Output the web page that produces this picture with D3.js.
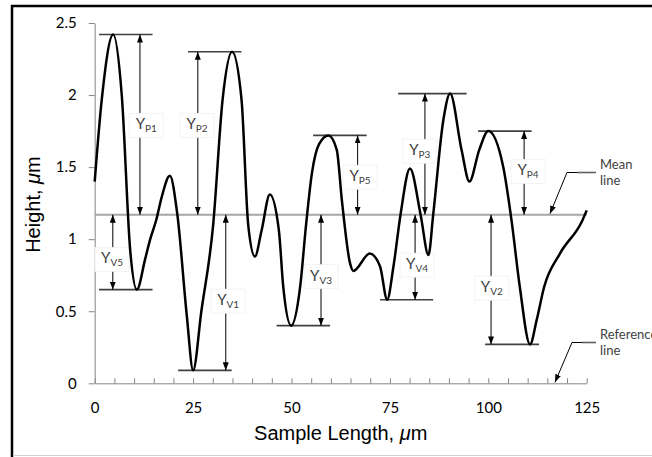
<!DOCTYPE html>
<html>
<head>
<meta charset="utf-8">
<script src="https://cdn.jsdelivr.net/npm/d3@7"></script>
<style>
  body { margin: 0; background: #fff; }
  svg { display: block; }
  text { font-family: Lato, "Open Sans", sans-serif; }
</style>
</head>
<body>
<div id="chart"></div>
<script>
// surface profile, sample length (um) vs height (um)
var profileX = [0, 1.8, 4.7, 6.9, 9.0, 10.7, 12.8, 14.0, 15.7, 17.0, 19.1, 21.0, 23.4, 25.0,
  27.1, 30.1, 32.5, 34.9, 37.3, 39.0, 40.7, 42.4, 44.5, 46.8, 47.9, 49.9, 52.2, 53.7, 55.2, 57.0,
  59.4, 61.5, 62.8, 64.9, 65.7, 69.9, 72.5, 74.3, 75.9, 77.7, 80.1, 82.8, 84.8, 86.0, 88.6,
  90.3, 93.2, 95.2, 97.7, 100, 103.8, 105.9, 108.0, 110.6, 112.3, 114.2, 118.2, 123.9, 125];
var profileY = [1.40, 1.97, 2.42, 1.99, 0.93, 0.65, 0.86, 0.99, 1.14, 1.29, 1.44, 1.17, 0.47, 0.09,
  0.50, 1.10, 1.97, 2.30, 1.97, 1.10, 0.88, 1.06, 1.31, 1.06, 0.67, 0.40, 0.67, 1.10, 1.46, 1.66,
  1.72, 1.62, 1.27, 0.83, 0.78, 0.90, 0.81, 0.58, 0.81, 1.17, 1.49, 1.17, 0.89, 1.17, 1.83,
  2.01, 1.62, 1.40, 1.62, 1.75, 1.50, 1.13, 0.67, 0.27, 0.44, 0.67, 0.90, 1.13, 1.20];
var meanHeight = 1.17;

// peak / valley annotations
var annSub = ["P1", "P2", "P5", "P3", "P4", "V5", "V1", "V3", "V4", "V2"];
var annLevel = [2.42, 2.30, 1.72, 2.01, 1.75, 0.65, 0.09, 0.40, 0.58, 0.27];
var annArrowX = [11.5, 26.2, 66.8, 83.9, 109.1, 4.6, 33.3, 57.5, 81.4, 100.7];
var annLineFrom = [1.1, 23.7, 55.5, 77.1, 97.4, 1.1, 21.2, 46.2, 72.5, 99.2];
var annLineTo = [14.7, 37.3, 69.1, 94.5, 111.0, 14.7, 34.8, 59.8, 86.0, 112.9];
var annLabelX = [13.1, 26.0, 67.4, 82.6, 110.1, 4.4, 33.9, 57.5, 81.9, 100.9];
var annLabelY = [1.79, 1.79, 1.43, 1.61, 1.47, 0.86, 0.57, 0.74, 0.82, 0.66];

var xTicks = [0, 25, 50, 75, 100, 125];
var yTicks = [0, 0.5, 1, 1.5, 2, 2.5];

var width = 652, height = 457;

var svg = d3.select("#chart")
  .append("svg")
    .attr("width", width)
    .attr("height", height);

var x = d3.scaleLinear().domain([0, 125]).range([94.7, 586.7]);
var y = d3.scaleLinear().domain([0, 2.5]).range([383.3, 23]);

// arrow head
var defs = svg.append("defs");
defs.append("marker")
    .attr("id", "head")
    .attr("viewBox", "0 0 8 6")
    .attr("refX", 8)
    .attr("refY", 3)
    .attr("markerWidth", 8)
    .attr("markerHeight", 6)
    .attr("markerUnits", "userSpaceOnUse")
    .attr("orient", "auto-start-reverse")
  .append("path")
    .attr("d", "M0,0L8,3L0,6z")
    .attr("fill", "#000");

// outer frame
svg.append("line").attr("x1", 12).attr("x2", 12).attr("y1", 5).attr("y2", 457)
  .attr("stroke", "#000").attr("stroke-width", 2.5);
svg.append("line").attr("x1", 11).attr("x2", 652).attr("y1", 6).attr("y2", 6)
  .attr("stroke", "#000").attr("stroke-width", 2.5);
svg.append("line").attr("x1", 13).attr("x2", 652).attr("y1", 455.5).attr("y2", 455.5)
  .attr("stroke", "#d0d0d0").attr("stroke-width", 1);

// axes
var yAxis = svg.append("g")
    .attr("transform", "translate(" + x(0) + ",0)")
    .call(d3.axisLeft(y).tickValues(yTicks).tickSizeOuter(0).tickSizeInner(6).tickPadding(12)
      .tickFormat(function(d) { return d; }));

var xAxis = svg.append("g")
    .attr("transform", "translate(0," + y(0) + ")")
    .call(d3.axisBottom(x).tickValues(d3.range(0, 126, 5)).tickSizeOuter(0).tickSizeInner(-5)
      .tickPadding(20)
      .tickFormat(function(d) { return xTicks.indexOf(d) >= 0 ? d : ""; }));

svg.selectAll(".domain, .tick line").attr("stroke", "#868686");
svg.selectAll(".tick text")
    .style("font-size", "15px")
    .attr("fill", "#000");
xAxis.selectAll(".tick text").attr("dy", "0.68em");

// axis titles
var xt = svg.append("text")
    .attr("x", x(62.5))
    .attr("y", 440)
    .attr("text-anchor", "middle")
    .style("font-family", "'Liberation Sans', Arial, sans-serif")
    .style("font-size", "20px")
    .text("Sample Length, ");
xt.append("tspan").style("font-style", "italic").text("μ");
xt.append("tspan").text("m");

var yt = svg.append("text")
    .attr("transform", "translate(40," + y(1.24) + ") rotate(-90)")
    .attr("text-anchor", "middle")
    .style("font-family", "'Liberation Sans', Arial, sans-serif")
    .style("font-size", "20px")
    .text("Height, ");
yt.append("tspan").style("font-style", "italic").text("μ");
yt.append("tspan").text("m");

// mean line
svg.append("line")
    .attr("x1", x(0)).attr("x2", x(125))
    .attr("y1", y(meanHeight)).attr("y2", y(meanHeight))
    .attr("stroke", "#a6a6a6")
    .attr("stroke-width", 2);

// peak and valley level lines
var ann = d3.range(annSub.length);
svg.selectAll(".level")
  .data(ann)
  .enter()
  .append("line")
    .attr("class", "level")
    .attr("x1", function(i) { return x(annLineFrom[i]); })
    .attr("x2", function(i) { return x(annLineTo[i]); })
    .attr("y1", function(i) { return y(annLevel[i]); })
    .attr("y2", function(i) { return y(annLevel[i]); })
    .attr("stroke", "#404040")
    .attr("stroke-width", 1.6);

// double arrows between mean line and level
svg.selectAll(".dim")
  .data(ann)
  .enter()
  .append("line")
    .attr("class", "dim")
    .attr("x1", function(i) { return x(annArrowX[i]); })
    .attr("x2", function(i) { return x(annArrowX[i]); })
    .attr("y1", function(i) { return y(meanHeight); })
    .attr("y2", function(i) { return y(annLevel[i]); })
    .attr("stroke", "#000")
    .attr("stroke-width", 1)
    .attr("marker-start", "url(#head)")
    .attr("marker-end", "url(#head)");

// labels with white boxes
var lab = svg.selectAll(".lab")
  .data(ann)
  .enter()
  .append("g")
    .attr("class", "lab")
    .attr("transform", function(i) { return "translate(" + x(annLabelX[i]) + "," + y(annLabelY[i]) + ")"; });

lab.append("rect")
    .attr("x", -17)
    .attr("y", -12)
    .attr("width", 34)
    .attr("height", 24)
    .attr("fill", "#fff")
    .attr("stroke", "#f0f0f0")
    .attr("stroke-width", 0.8);

var lt = lab.append("text")
    .attr("text-anchor", "middle")
    .attr("y", 4)
    .attr("fill", "#404040")
    .style("font-size", "15px");
lt.append("tspan").text("Y");
lt.append("tspan")
    .attr("dy", 3)
    .style("font-size", "10px")
    .text(function(i) { return annSub[i]; });

// profile curve
var line = d3.line()
    .x(function(d) { return x(d[0]); })
    .y(function(d) { return y(d[1]); })
    .curve(d3.curveMonotoneX);

svg.append("path")
    .datum(d3.zip(profileX, profileY))
    .attr("d", line)
    .attr("fill", "none")
    .attr("stroke", "#000")
    .attr("stroke-width", 2.5);

// callouts
function callout(textLines, tx, ty, elbowX, tipX, tipY) {
  svg.append("path")
      .attr("d", "M" + (tx - 4) + "," + ty + "H" + elbowX + "L" + tipX + "," + tipY)
      .attr("fill", "none")
      .attr("stroke", "#000")
      .attr("stroke-width", 1)
      .attr("marker-end", "url(#head)");
  svg.append("path")
      .attr("d", "M" + (tx - 4) + "," + ty + "H" + (elbowX + 10))
      .attr("stroke", "#606060")
      .attr("stroke-width", 1.6);
  var t = svg.append("text")
      .attr("x", tx)
      .attr("y", ty - 4)
      .attr("fill", "#404040")
      .style("font-size", "13px");
  textLines.forEach(function(s, k) {
    t.append("tspan").attr("x", tx).attr("dy", k === 0 ? 0 : 16).text(s);
  });
}
callout(["Mean", "line"], 600, 172.5, 567, 550, y(meanHeight) - 1);
callout(["Reference", "line"], 600, 342.5, 572, 555, y(0) - 1);
</script>
</body>
</html>
